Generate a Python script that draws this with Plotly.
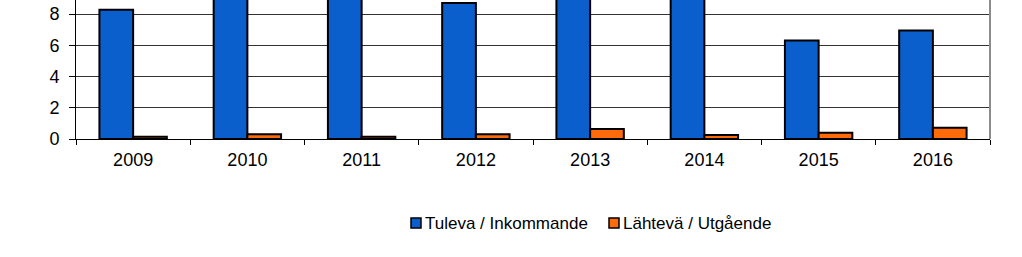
import plotly.graph_objects as go

years = ["2009", "2010", "2011", "2012", "2013", "2014", "2015", "2016"]
incoming = [8.27, 10.6, 11.2, 8.7, 9.8, 10.3, 6.3, 6.94]
outgoing = [0.15, 0.3, 0.15, 0.3, 0.64, 0.25, 0.4, 0.72]
y_ticks = [0, 2, 4, 6, 8]
series_names = ["Tuleva / Inkommande", "Lähtevä / Utgående"]
series_colors = ["#0A5FCC", "#FF6A0A"]

W, H = 1022, 257
L, R, T, B = 76, 32, 0, 118
pw, ph = W - L - R, H - T - B

def px_x(x):
    return (x - L) / pw

def px_y(y):
    return (H - B - y) / ph

fig = go.Figure()
for vals, name, col in zip([incoming, outgoing], series_names, series_colors):
    fig.add_trace(go.Bar(x=years, y=vals, name=name,
                         marker=dict(color=col, line=dict(color="#000000", width=2))))

# custom legend (compact, like the original)
shapes = [dict(type="line", xref="paper", yref="paper", x0=1, x1=1, y0=0, y1=1,
               line=dict(color="#8C8C8C", width=2))]
annotations = []
legend_sym_x = [411, 609]
for sx, name, col in zip(legend_sym_x, series_names, series_colors):
    shapes.append(dict(type="rect", xref="paper", yref="paper",
                       x0=px_x(sx), x1=px_x(sx + 10), y0=px_y(228), y1=px_y(218),
                       fillcolor=col, line=dict(color="#000000", width=1.5)))
    annotations.append(dict(xref="paper", yref="paper", x=px_x(sx + 12), y=px_y(223),
                            xanchor="left", yanchor="middle", showarrow=False,
                            text=name, font=dict(size=17, color="#000000")))

fig.update_layout(
    width=W, height=H,
    margin=dict(l=L, r=R, t=T, b=B),
    paper_bgcolor="white", plot_bgcolor="white",
    barmode="group", bargap=0.41, bargroupgap=0,
    font=dict(family="Liberation Sans, Arial, sans-serif", size=18, color="#000000"),
    showlegend=False,
    shapes=shapes,
    annotations=annotations,
)
fig.update_xaxes(showline=True, linecolor="#000000", linewidth=1,
                 ticks="outside", tickson="boundaries", ticklen=5, tickcolor="#000000",
                 ticklabelstandoff=4,
                 showgrid=False, tickfont=dict(size=18))
fig.update_yaxes(range=[0, 8.9], tickvals=y_ticks, showline=True, linecolor="#000000",
                 linewidth=1, ticks="outside", ticklen=6, tickcolor="#000000",
                 ticklabelstandoff=6, tickfont=dict(size=18),
                 showgrid=True, gridcolor="#333333", gridwidth=1, zeroline=False)

fig.write_html("out.html")
